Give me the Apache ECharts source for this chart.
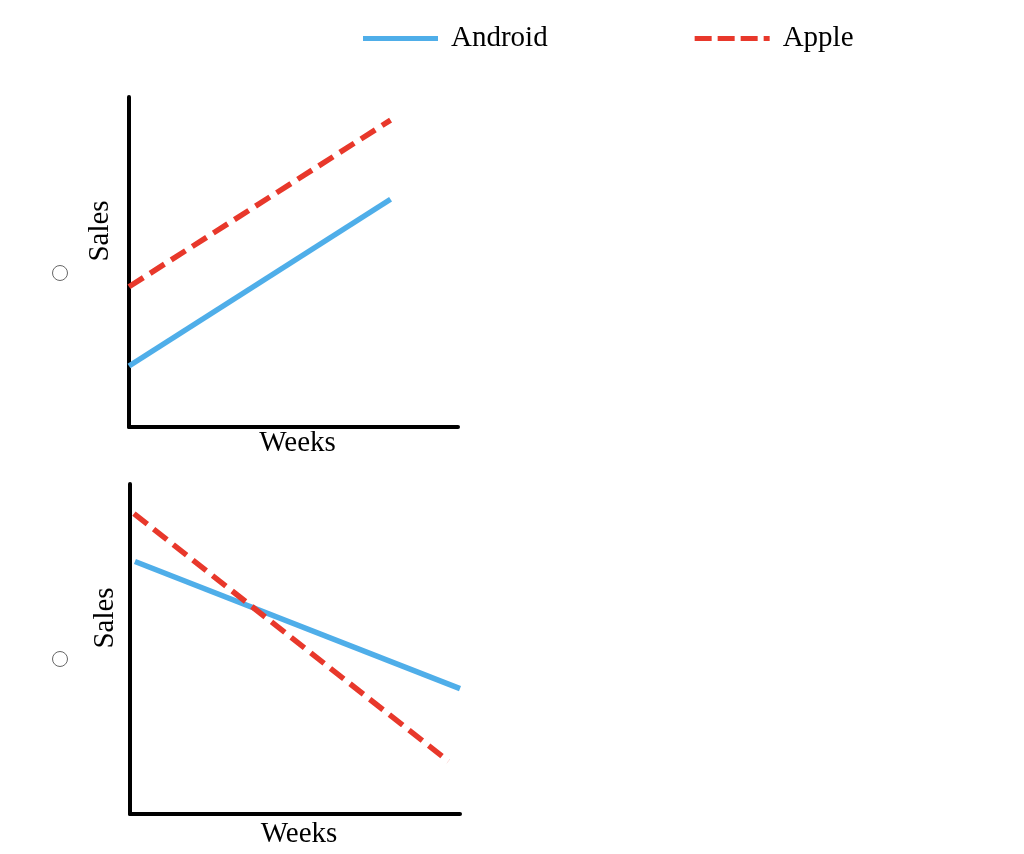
<!DOCTYPE html>
<html>
<head>
<meta charset="utf-8">
<script src="https://cdn.jsdelivr.net/npm/echarts@6/dist/echarts.min.js"></script>
<style>
  html, body { margin: 0; padding: 0; background: #fff; }
  #chart { width: 1024px; height: 854px; }
</style>
</head>
<body>
<div id="chart"></div>
<script>
// option 1: both rising, Apple above Android
const upAndroid = [[0, 1.85], [7.95, 6.9]];
const upApple = [[0, 4.25], [7.95, 9.3]];
// option 2: both falling, lines cross
const downAndroid = [[0.15, 7.65], [10, 3.8]];
const downApple = [[0.12, 9.1], [9.65, 1.6]];

const seriesNames = ["Android", "Apple"];
const axisTitles = { x: "Weeks", y: "Sales" };

const BLUE = "#4FAEE9";
const RED = "#E8382B";
const FONT = "'Liberation Serif', 'Times New Roman', serif";

const chart = echarts.init(document.getElementById("chart"));

function xAxisFor(gridIndex, gap) {
  return {
    gridIndex: gridIndex,
    type: "value",
    min: 0,
    max: 10,
    name: axisTitles.x,
    nameLocation: "middle",
    nameGap: gap,
    nameTextStyle: {
      color: "#000",
      fontFamily: FONT,
      fontSize: 29,
      padding: [0, 0, 0, 8],
    },
    axisLine: { show: true, lineStyle: { color: "#000", width: 4 } },
    axisTick: { show: false },
    axisLabel: { show: false },
    splitLine: { show: false },
  };
}

function yAxisFor(gridIndex, gap) {
  return {
    gridIndex: gridIndex,
    type: "value",
    min: 0,
    max: 10,
    name: axisTitles.y,
    nameLocation: "middle",
    nameRotate: 90,
    nameGap: gap,
    nameTextStyle: {
      color: "#000",
      fontFamily: FONT,
      fontSize: 29,
      padding: [0, 0, 0, 62],
    },
    axisLine: { show: true, lineStyle: { color: "#000", width: 4 } },
    axisTick: { show: false },
    axisLabel: { show: false },
    splitLine: { show: false },
  };
}

function lineSeries(name, data, idx, dashed) {
  return {
    name: name,
    type: "line",
    xAxisIndex: idx,
    yAxisIndex: idx,
    data: data,
    showSymbol: false,
    symbol: "none",
    clip: false,
    lineStyle: {
      color: dashed ? RED : BLUE,
      width: 5.5,
      type: dashed ? [17, 8] : "solid",
    },
    itemStyle: { color: dashed ? RED : BLUE },
  };
}

chart.setOption({
  animation: false,
  legend: {
    data: [
      { name: seriesNames[0], icon: "rect", itemStyle: { color: BLUE } },
      {
        name: seriesNames[1],
        icon: "path://M0,0h17v5h-17z M23,0h17v5h-17z M46,0h17v5h-17z M69,0h6v5h-6z",
        itemStyle: { color: RED },
      },
    ],
    left: 358,
    top: 19,
    itemWidth: 75,
    itemHeight: 5,
    itemGap: 147,
    textStyle: {
      color: "#000",
      fontFamily: FONT,
      fontSize: 29,
      padding: [0, 0, 16, 8],
    },
  },
  grid: [
    { left: 129, top: 97, width: 329, height: 330, outerBoundsMode: "none" },
    { left: 130, top: 484, width: 330, height: 330, outerBoundsMode: "none" },
  ],
  xAxis: [xAxisFor(0, 2), xAxisFor(1, 6)],
  yAxis: [yAxisFor(0, 14), yAxisFor(1, 10)],
  series: [
    lineSeries(seriesNames[0], upAndroid, 0, false),
    lineSeries(seriesNames[1], upApple, 0, true),
    lineSeries(seriesNames[0], downAndroid, 1, false),
    lineSeries(seriesNames[1], downApple, 1, true),
  ],
  graphic: [
    // radio buttons beside each option
    {
      type: "circle",
      shape: { cx: 60, cy: 273, r: 7.5 },
      style: { fill: "#fff", stroke: "#666", lineWidth: 1 },
    },
    {
      type: "circle",
      shape: { cx: 60, cy: 659, r: 7.5 },
      style: { fill: "#fff", stroke: "#666", lineWidth: 1 },
    },
  ],
});
</script>
</body>
</html>
